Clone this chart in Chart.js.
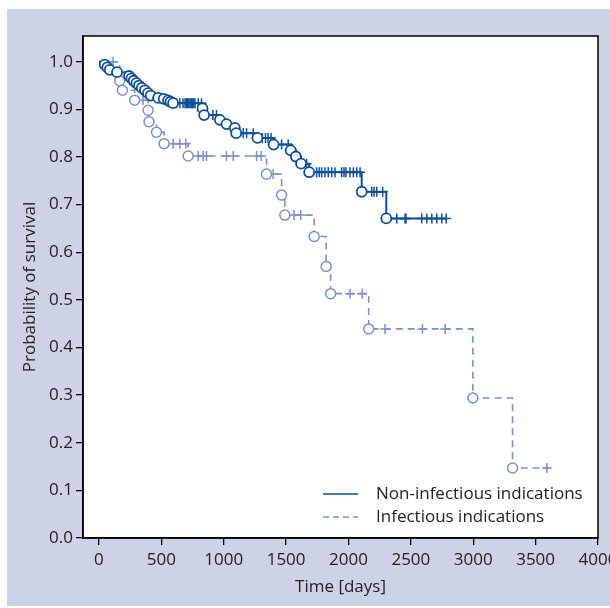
<!DOCTYPE html>
<html>
<head>
<meta charset="utf-8">
<script src="https://cdn.jsdelivr.net/npm/chart.js@4.4.1/dist/chart.umd.min.js"></script>
<style>
  html, body { margin: 0; padding: 0; background: #fff; overflow: hidden; }
  #wrap { position: relative; width: 610px; height: 608px; }
</style>
</head>
<body>
<div id="wrap"><canvas id="kmChart"></canvas></div>
<script>
// Kaplan-Meier curves, values
const nonInfLabel = 'Non-infectious indications';
const nonInfEventDays = [46, 67, 86, 145, 241, 260, 278, 300, 321, 343, 369, 393, 415, 474, 519, 554, 573, 594,
    830, 843, 969, 1022, 1089, 1100, 1270, 1400, 1537, 1578, 1620, 1685, 2106, 2303];
const nonInfEventSurv = [0.994, 0.988, 0.983, 0.978, 0.970, 0.965, 0.960, 0.955, 0.950, 0.945, 0.940, 0.934, 0.929, 0.924, 0.922, 0.919, 0.916, 0.913,
    0.902, 0.888, 0.878, 0.869, 0.861, 0.850, 0.840, 0.826, 0.814, 0.801, 0.786, 0.768, 0.727, 0.671];
const nonInfCensorDays = [621, 648, 674, 690, 700, 710, 720, 730, 740, 750, 760, 770, 796, 822, 913, 942,
    1156, 1183, 1236, 1310, 1335, 1355, 1380, 1464, 1517, 1664,
    1745, 1766, 1785, 1811, 1838, 1865, 1892, 1945, 1964, 1980, 2012, 2039, 2066, 2093,
    2186, 2205, 2226, 2274, 2387, 2453, 2461, 2587, 2628, 2668, 2708, 2748, 2783];
const nonInfEndDay = 2790;

const infLabel = 'Infectious indications';
const infEventDays = [166, 188, 286, 394, 401, 461, 522, 715, 1343, 1464, 1490, 1725, 1821, 1857, 2162, 2997, 3315];
const infEventSurv = [0.960, 0.940, 0.919, 0.898, 0.874, 0.852, 0.828, 0.802, 0.764, 0.720, 0.678, 0.633, 0.570, 0.513, 0.439, 0.294, 0.147];
const infCensorDays = [113, 353, 594, 648, 696, 795, 835, 862, 1022, 1076, 1263, 1300, 1396, 1563, 1617,
    2013, 2110, 2293, 2593, 2775, 3590];
const infEndDay = 3610;

const xTicks = [0, 500, 1000, 1500, 2000, 2500, 3000, 3500, 4000];
const yTicks = [0, 0.1, 0.2, 0.3, 0.4, 0.5, 0.6, 0.7, 0.8, 0.9, 1.0];

const darkBlue = '#0f4f98';
const lightBlue = '#7d90c9';
const textColor = '#222';

function stepPoints(days, surv, endDay) {
    var pts = [{x: 0, y: 1}];
    for (let i = 0; i < days.length; i++) {
        pts.push({x: days[i], y: surv[i]});
    }
    pts.push({x: endDay, y: surv[surv.length - 1]});
    return pts;
}

function eventPoints(days, surv) {
    return days.map((d, i) => ({x: d, y: surv[i]}));
}

function censorPoints(censors, days, surv) {
    return censors.map(c => {
        let s = 1;
        for (let i = 0; i < days.length; i++) {
            if (days[i] <= c) s = surv[i];
        }
        return {x: c, y: s};
    });
}

const backgroundPlugin = {
    id: 'panelBackground',
    beforeDraw(chart) {
        const ctx = chart.ctx;
        const a = chart.chartArea;
        ctx.save();
        ctx.fillStyle = '#cdd2e6';
        ctx.fillRect(7, 9, 603, 597);
        ctx.fillStyle = '#ffffff';
        ctx.fillRect(a.left, a.top, a.right - a.left, a.bottom - a.top);
        ctx.restore();
    },
    beforeDatasetsDraw(chart) {
        const ctx = chart.ctx;
        const a = chart.chartArea;
        ctx.save();
        ctx.strokeStyle = '#000';
        ctx.lineWidth = 1.5;
        ctx.strokeRect(a.left, a.top, a.right - a.left, a.bottom - a.top);
        ctx.restore();
    }
};

const legendPlugin = {
    id: 'kmLegend',
    afterDraw(chart) {
        const ctx = chart.ctx;
        const a = chart.chartArea;
        const items = [
            {label: nonInfLabel, color: darkBlue, dash: []},
            {label: infLabel, color: lightBlue, dash: [6, 4]}
        ];
        ctx.save();
        ctx.font = "17px 'Open Sans', sans-serif";
        ctx.textBaseline = 'middle';
        ctx.fillStyle = textColor;
        items.forEach((item, i) => {
            const y = a.bottom - 44 + i * 23;
            ctx.strokeStyle = item.color;
            ctx.lineWidth = 1.6;
            ctx.setLineDash(item.dash);
            ctx.beginPath();
            ctx.moveTo(a.left + 240, y);
            ctx.lineTo(a.left + 275, y);
            ctx.stroke();
            ctx.fillText(item.label, a.left + 293, y);
        });
        ctx.restore();
    }
};

Chart.defaults.font.family = "'Open Sans', sans-serif";
Chart.defaults.font.size = 17;
Chart.defaults.color = textColor;

const chart = new Chart(document.getElementById('kmChart'), {
    type: 'scatter',
    data: {
        datasets: [
            {
                label: nonInfLabel + ' events',
                data: eventPoints(nonInfEventDays, nonInfEventSurv),
                pointStyle: 'circle',
                pointRadius: 5,
                pointBackgroundColor: '#fff',
                pointBorderColor: darkBlue,
                pointBorderWidth: 1.8,
                order: 0
            },
            {
                label: infLabel + ' events',
                data: eventPoints(infEventDays, infEventSurv),
                pointStyle: 'circle',
                pointRadius: 5,
                pointBackgroundColor: '#fff',
                pointBorderColor: lightBlue,
                pointBorderWidth: 1.5,
                order: 1
            },
            {
                label: nonInfLabel + ' censored',
                data: censorPoints(nonInfCensorDays, nonInfEventDays, nonInfEventSurv),
                pointStyle: 'cross',
                pointRadius: 5,
                pointBorderColor: darkBlue,
                pointBorderWidth: 1.5,
                order: 2
            },
            {
                label: infLabel + ' censored',
                data: censorPoints(infCensorDays, infEventDays, infEventSurv),
                pointStyle: 'cross',
                pointRadius: 5,
                pointBorderColor: lightBlue,
                pointBorderWidth: 1.5,
                order: 3
            },
            {
                type: 'line',
                label: nonInfLabel,
                data: stepPoints(nonInfEventDays, nonInfEventSurv, nonInfEndDay),
                stepped: true,
                borderColor: darkBlue,
                borderWidth: 2,
                pointRadius: 0,
                fill: false,
                order: 4
            },
            {
                type: 'line',
                label: infLabel,
                data: stepPoints(infEventDays, infEventSurv, infEndDay),
                stepped: true,
                borderColor: lightBlue,
                borderWidth: 1.6,
                borderDash: [7, 5],
                pointRadius: 0,
                fill: false,
                order: 5
            }
        ]
    },
    options: {
        responsive: true,
        maintainAspectRatio: false,
        animation: false,
        layout: { padding: { top: 36, right: 12, bottom: 0, left: 0 } },
        plugins: {
            legend: { display: false },
            tooltip: { enabled: false }
        },
        scales: {
            x: {
                type: 'linear',
                min: -128,
                max: 4000,
                afterBuildTicks: s => { s.ticks = xTicks.map(v => ({value: v})); },
                afterFit: s => { s.height = 70; s.paddingLeft = 0; s.paddingRight = 0; },
                ticks: { padding: 5, maxRotation: 0, autoSkip: false, callback: v => String(v) },
                grid: { drawOnChartArea: false, tickLength: 7, color: '#000', lineWidth: 1.3 },
                border: { color: '#000', width: 1.5 },
                title: { display: true, text: 'Time [days]', padding: { top: 0, bottom: 11 } }
            },
            y: {
                min: 0,
                max: 1.054,
                afterBuildTicks: s => { s.ticks = yTicks.map(v => ({value: v})); },
                afterFit: s => { s.width = 83; s.paddingTop = 0; s.paddingBottom = 0; },
                ticks: { padding: 3, autoSkip: false, callback: v => v.toFixed(1) },
                grid: { drawOnChartArea: false, tickLength: 7, color: '#000', lineWidth: 1.3 },
                border: { color: '#000', width: 1.5 },
                title: { display: true, text: 'Probability of survival', padding: { top: 20, bottom: 0 } }
            }
        }
    },
    plugins: [backgroundPlugin, legendPlugin]
});
</script>
</body>
</html>
